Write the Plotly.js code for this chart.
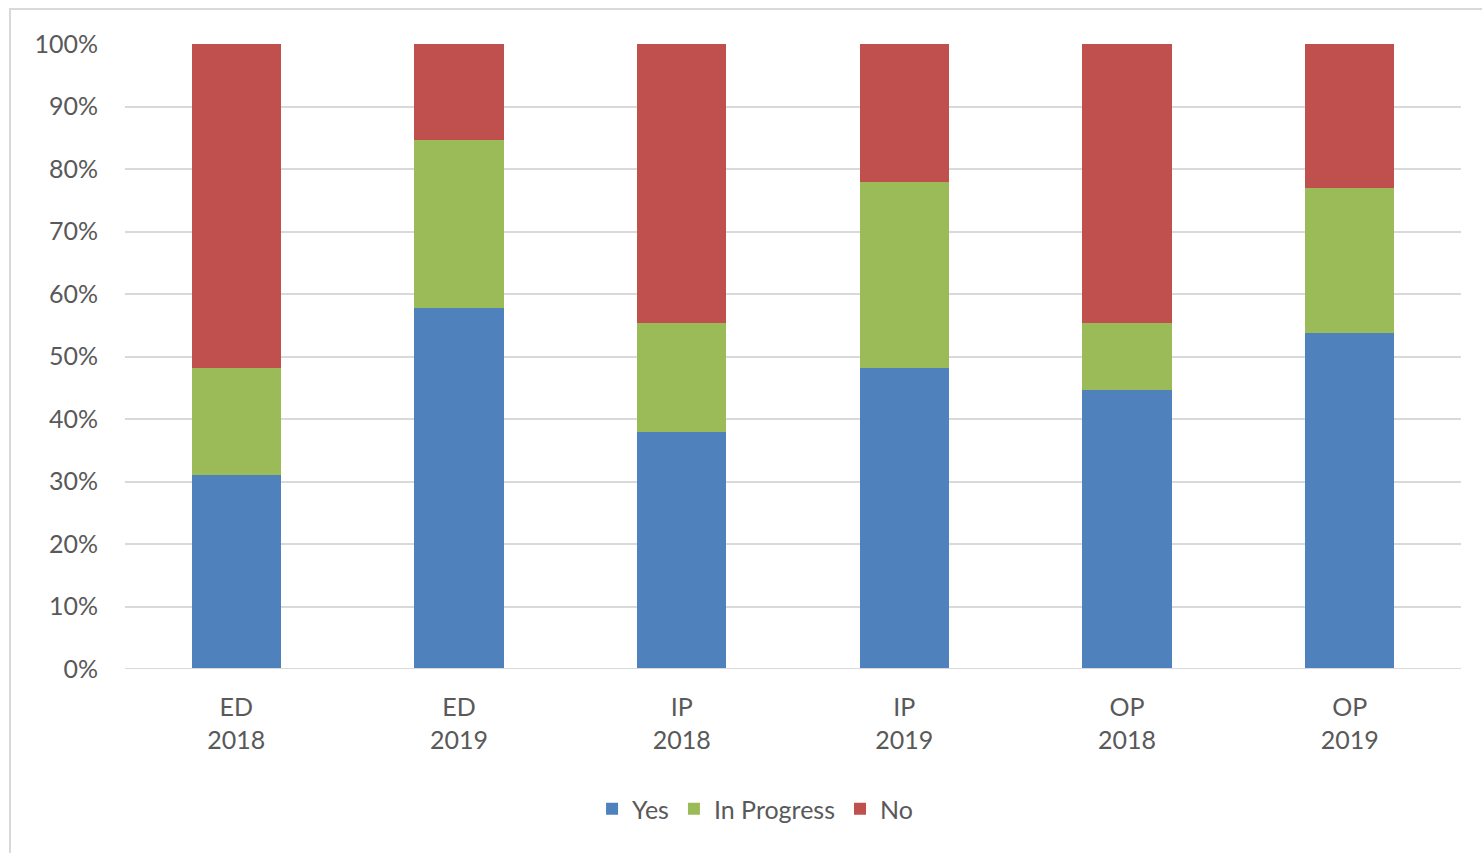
<!DOCTYPE html>
<html>
<head>
<meta charset="utf-8">
<script src="https://cdn.plot.ly/plotly-3.0.1.min.js"></script>
<style>
html,body{margin:0;padding:0;background:#fff;overflow:hidden;}
#frame{position:absolute;left:9px;top:8px;width:1490px;height:900px;border:2px solid #d9d9d9;box-sizing:border-box;}
#chart{position:absolute;left:0;top:0;width:1482px;height:853px;}
</style>
</head>
<body>
<div id="frame"></div>
<div id="chart"></div>
<script>
const categories = ["ED<br>2018","ED<br>2019","IP<br>2018","IP<br>2019","OP<br>2018","OP<br>2019"];
const yesValues = [31.0, 57.8, 37.9, 48.2, 44.6, 53.8];
const inProgressValues = [17.2, 26.8, 17.5, 29.7, 10.8, 23.2];
const noValues = [51.8, 15.4, 44.6, 22.1, 44.6, 23.0];
const seriesNames = ["Yes","In Progress","No"];
const colors = ["#4f81bd","#9bbb59","#c0504d"];

const font = {family:"Lato, 'Open Sans', sans-serif", size:25, color:"#595959"};
const data = [yesValues, inProgressValues, noValues].map((vals,i)=>({
  type:"bar", x:categories, y:vals.map(v=>v/100), name:seriesNames[i],
  marker:{color:colors[i]}, hoverinfo:"skip"
}));
const layout = {
  width:1482, height:853,
  paper_bgcolor:"rgba(0,0,0,0)", plot_bgcolor:"rgba(0,0,0,0)",
  margin:{l:125, r:21, t:44, b:184},
  barmode:"stack", bargap:0.6,
  font:font,
  xaxis:{type:"category", showgrid:false, showline:false, zeroline:false, ticks:"", ticklabelstandoff:21, tickfont:font, fixedrange:true},
  yaxis:{range:[0,1], tickformat:".0%", dtick:0.1, showgrid:true, gridcolor:"#d9d9d9", gridwidth:2, zeroline:false, showline:false, ticks:"", ticklabelstandoff:26, tickfont:font, fixedrange:true},
  showlegend:true,
  legend:{orientation:"h", x:0.4716, xanchor:"center", y:-0.224, yanchor:"middle", font:font, itemwidth:30, traceorder:"normal", tracegroupgap:0},
  shapes:[{type:"line", xref:"paper", yref:"y", x0:0, x1:1, y0:0, y1:0, line:{color:"#d9d9d9", width:2}}]
};
Plotly.newPlot("chart", data, layout, {displayModeBar:false, staticPlot:true});
</script>
</body>
</html>
